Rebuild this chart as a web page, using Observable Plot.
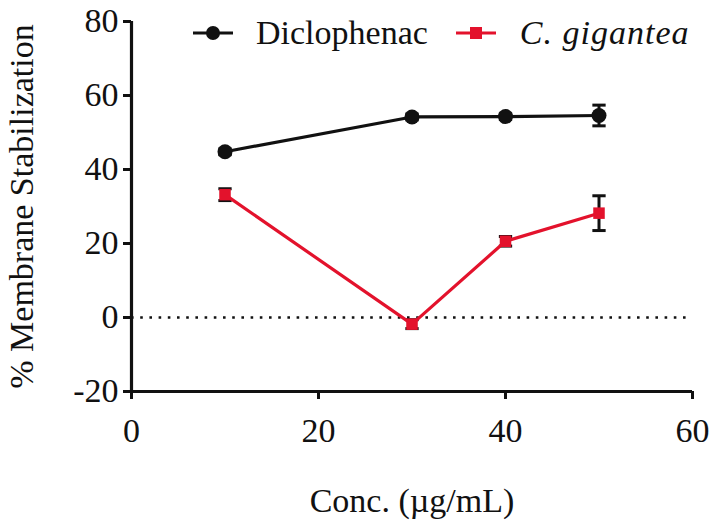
<!DOCTYPE html>
<html>
<head>
<meta charset="utf-8">
<script src="https://cdn.jsdelivr.net/npm/d3@7"></script>
<script src="https://cdn.jsdelivr.net/npm/@observablehq/plot@0.6"></script>
<style>
  html, body { margin: 0; padding: 0; background: #fff; }
  #wrap { position: relative; width: 720px; height: 529px; font-family: "Liberation Serif", "Times New Roman", serif; }
  #chart svg, #chart svg text { font-family: "Liberation Serif", "Times New Roman", serif !important; }
  #legend { position: absolute; left: 193px; top: 16px; display: flex; align-items: center; font-size: 34px; color: #111; line-height: 1; }
  #legend svg { display: block; }
</style>
</head>
<body>
<div id="wrap">
  <div id="chart"></div>
  <div id="legend"></div>
</div>
<script>
// ---- data ----
const conc = [10, 30, 40, 50];
const seriesNames = ["Diclophenac", "C. gigantea"];
const diclofenacMean = [44.8, 54.2, 54.3, 54.6];
const diclofenacErr  = [0.8, 0.8, 0.8, 2.8];
const giganteaMean   = [33.2, -1.8, 20.6, 28.2];
const giganteaErr    = [1.6, 1.2, 1.3, 4.7];
const xTicks = [0, 20, 40, 60];
const yTicks = [-20, 0, 20, 40, 60, 80];
const colors = ["#111111", "#e3122c"];

const rows = [];
conc.forEach((c, i) => {
  rows.push({series: seriesNames[0], x: c, y: diclofenacMean[i], e: diclofenacErr[i]});
  rows.push({series: seriesNames[1], x: c, y: giganteaMean[i], e: giganteaErr[i]});
});
const dic = rows.filter(d => d.series === seriesNames[0]);
const gig = rows.filter(d => d.series === seriesNames[1]);

// horizontal cap symbol for error bars
const capSymbol = {
  draw(ctx, size) {
    const w = Math.sqrt(size) / 2;
    ctx.moveTo(-w, 0);
    ctx.lineTo(w, 0);
  }
};

const font = "Liberation Serif";

const chart = Plot.plot({
  width: 720,
  height: 529,
  marginLeft: 131,
  marginRight: 28,
  marginTop: 21,
  marginBottom: 138,
  style: {fontFamily: font, fontSize: "32px", color: "#111", background: "#fff"},
  x: {domain: [0, 60]},
  y: {domain: [-20, 80]},
  marks: [
    Plot.ruleY([0], {stroke: "#111", strokeWidth: 2.6, strokeDasharray: "2.6,6.6"}),
    Plot.axisY({ticks: yTicks, tickSize: 8, tickPadding: 5, strokeWidth: 3, label: null, fontSize: 34, fontFamily: font, fill: "#111", tickFormat: d => d < 0 ? "-" + Math.abs(d) : String(d)}),
    Plot.axisX({ticks: xTicks, tickSize: 8, tickPadding: 18, strokeWidth: 3, label: null, fontSize: 34, fontFamily: font, fill: "#111"}),
    Plot.ruleX([0], {stroke: "#111", strokeWidth: 3.2}),
    Plot.ruleY([-20], {stroke: "#111", strokeWidth: 3.2}),
    // error bars
    Plot.ruleX(rows, {x: "x", y1: d => d.y - d.e, y2: d => d.y + d.e, stroke: "#111", strokeWidth: 3}),
    Plot.dot(rows, {x: "x", y: d => d.y + d.e, symbol: capSymbol, r: 7.5, stroke: "#111", strokeWidth: 3}),
    Plot.dot(rows, {x: "x", y: d => d.y - d.e, symbol: capSymbol, r: 7.5, stroke: "#111", strokeWidth: 3}),
    // lines
    Plot.line(gig, {x: "x", y: "y", stroke: colors[1], strokeWidth: 3.2}),
    Plot.line(dic, {x: "x", y: "y", stroke: colors[0], strokeWidth: 3.2}),
    // markers
    Plot.dot(gig, {x: "x", y: "y", symbol: "square", r: 6.5, fill: colors[1], stroke: "none"}),
    Plot.dot(dic, {x: "x", y: "y", symbol: "circle", r: 7.5, fill: colors[0], stroke: "none"}),
    // axis titles
    Plot.text(["Conc. (µg/mL)"], {frameAnchor: "bottom", dy: 120, fontSize: 34, fontFamily: font, fill: "#111", text: d => d}),
    Plot.text(["% Membrane Stabilization"], {frameAnchor: "left", dx: -109, rotate: -90, textAnchor: "middle", fontSize: 34, fontFamily: font, fill: "#111", text: d => d})
  ]
});
document.getElementById("chart").appendChild(chart);

// legend (HTML overlay)
const legend = document.getElementById("legend");
seriesNames.forEach((name, i) => {
  const sw = document.createElementNS("http://www.w3.org/2000/svg", "svg");
  sw.setAttribute("width", 40);
  sw.setAttribute("height", 20);
  sw.style.marginLeft = i === 0 ? "0px" : "28px";
  const ln = document.createElementNS("http://www.w3.org/2000/svg", "line");
  ln.setAttribute("x1", 0); ln.setAttribute("x2", 40); ln.setAttribute("y1", 10); ln.setAttribute("y2", 10);
  ln.setAttribute("stroke", colors[i]); ln.setAttribute("stroke-width", 3.2);
  sw.appendChild(ln);
  if (i === 0) {
    const c = document.createElementNS("http://www.w3.org/2000/svg", "circle");
    c.setAttribute("cx", 20); c.setAttribute("cy", 10); c.setAttribute("r", 7); c.setAttribute("fill", colors[i]);
    sw.appendChild(c);
  } else {
    const r = document.createElementNS("http://www.w3.org/2000/svg", "rect");
    r.setAttribute("x", 14); r.setAttribute("y", 4); r.setAttribute("width", 12); r.setAttribute("height", 12); r.setAttribute("fill", colors[i]);
    sw.appendChild(r);
  }
  legend.appendChild(sw);
  const t = document.createElement("span");
  t.textContent = name;
  t.style.marginLeft = i === 0 ? "23px" : "24px";
  if (i === 1) { t.style.fontStyle = "italic"; t.style.letterSpacing = "1px"; }
  legend.appendChild(t);
});
</script>
</body>
</html>
